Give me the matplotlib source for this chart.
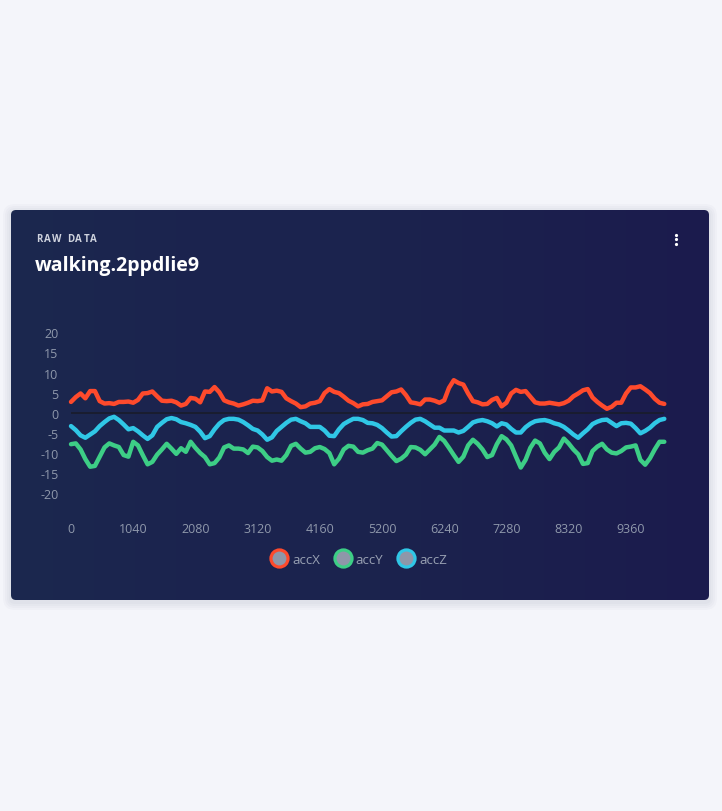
import numpy as np
import matplotlib
matplotlib.use('Agg')
import matplotlib.pyplot as plt
from matplotlib.patches import FancyBboxPatch
from matplotlib.lines import Line2D

# ---------------- data ----------------
sample_step = 80
acc_x = [2.7, 3.9, 4.8, 3.6, 5.4, 5.4, 2.9, 2.3, 2.4, 2.2, 2.7, 2.7, 2.8, 2.5, 3.2, 4.8, 4.9, 5.3, 4.1, 3.0, 2.9,
         3.0, 2.6, 1.8, 2.2, 3.7, 3.5, 2.6, 5.3, 5.2, 6.4, 5.1, 3.1, 2.6, 2.3, 1.8, 2.1, 2.5, 3.0, 2.9, 3.1,
         6.1, 5.3, 5.5, 5.2, 3.6, 2.9, 2.3, 1.4, 1.6, 2.3, 2.5, 2.9, 4.9, 5.9, 5.2, 4.9, 4.0, 3.0, 2.4, 1.6, 2.1,
         2.2, 2.7, 2.9, 3.1, 4.1, 5.1, 5.3, 5.8, 4.4, 2.6, 2.4, 2.1, 3.3, 3.3, 3.0, 2.5, 3.1, 6.2, 8.1, 7.4, 7.0, 4.8,
         2.9, 2.6, 2.1, 2.2, 3.2, 3.7, 1.6, 2.5, 4.8, 5.7, 5.2, 5.4, 4.0, 2.6, 2.3, 2.3, 2.5, 2.3, 2.1, 2.4, 3.0,
         4.1, 4.8, 5.6, 5.9, 3.8, 2.7, 1.8, 1.0, 1.5, 2.5, 2.5, 4.8, 6.3, 6.3, 6.6, 5.8, 4.9, 3.5, 2.5, 2.2]
acc_y = [-7.8, -7.6, -9.1, -11.5, -13.4, -13.2, -10.9, -8.6, -7.6, -8.1, -8.5, -10.5, -10.9, -7.2, -8.1, -10.5, -12.8, -12.2, -10.4, -9.1, -7.7,
         -8.9, -10.2, -8.8, -9.7, -7.2, -8.7, -10.0, -11.0, -12.8, -12.5, -11.1, -8.6, -8.1, -8.9, -8.9, -9.1, -10.0, -8.4, -8.6, -9.5,
         -11.0, -11.9, -11.6, -11.9, -10.5, -8.2, -7.7, -8.9, -9.9, -9.7, -8.8, -8.5, -9.0, -10.0, -12.8, -11.4, -9.1, -8.2, -8.4, -9.7, -9.9,
         -9.3, -8.9, -7.5, -7.9, -9.3, -10.7, -12.0, -11.4, -10.4, -8.5, -8.6, -9.2, -10.3, -9.1, -7.9, -6.0, -7.0, -8.7, -10.5, -12.2, -10.9, -8.1,
         -6.7, -7.7, -9.1, -11.0, -10.5, -7.8, -5.8, -6.6, -8.1, -10.9, -13.6, -11.7, -8.7, -6.9, -7.6, -9.9, -11.5, -9.7, -8.6, -6.4, -7.6,
         -9.1, -10.3, -12.7, -12.5, -9.5, -8.4, -7.7, -9.1, -9.9, -10.1, -9.5, -8.6, -8.4, -8.1, -11.7, -12.9, -11.3, -9.1, -7.2, -7.2]
acc_z = [-3.3, -4.3, -5.6, -6.2, -5.4, -4.6, -3.3, -2.3, -1.4, -1.0, -1.8, -2.9, -4.1, -3.8, -4.6, -5.6, -6.5, -5.6, -3.5, -2.5, -1.6,
         -1.3, -1.6, -2.3, -2.6, -3.0, -3.5, -4.7, -6.3, -5.8, -4.1, -2.7, -1.8, -1.5, -1.5, -1.7, -2.3, -3.1, -4.0, -4.4, -5.4,
         -6.7, -6.1, -4.5, -3.5, -2.5, -1.7, -1.5, -2.1, -2.6, -3.5, -3.5, -3.5, -4.4, -5.7, -5.8, -4.1, -2.8, -2.1, -1.5, -1.5, -1.8,
         -2.5, -2.6, -3.0, -3.8, -4.9, -5.9, -5.8, -4.6, -3.5, -2.5, -1.7, -1.5, -2.1, -2.9, -3.7, -3.7, -4.4, -4.4, -4.4, -4.9, -4.5, -3.5,
         -2.4, -2.0, -1.8, -2.1, -2.6, -3.4, -2.6, -2.9, -4.0, -4.9, -4.9, -3.6, -2.7, -2.1, -1.9, -1.8, -2.1, -2.6, -2.9, -3.5, -4.4,
         -5.4, -6.2, -5.1, -4.1, -2.8, -2.2, -1.8, -1.7, -2.5, -3.3, -2.6, -2.5, -2.7, -3.8, -5.1, -4.5, -3.7, -2.6, -1.8, -1.5]
series_names = ['accX', 'accY', 'accZ']
series_colors = ['#fe4a2c', '#3dce86', '#30c7e6']
x_ticks = [0, 1040, 2080, 3120, 4160, 5200, 6240, 7280, 8320, 9360]
y_ticks = [20, 15, 10, 5, 0, -5, -10, -15, -20]
card_label = 'RAW DATA'
card_title = 'walking.2ppdlie9'

# ---------------- figure ----------------
W, H = 722, 812
plt.rcParams['font.family'] = ['Open Sans', 'DejaVu Sans']
fig = plt.figure(figsize=(W / 100, H / 100), dpi=100)
fig.patch.set_facecolor('#f4f5fa')

bg = fig.add_axes([0, 0, 1, 1])
bg.set_xlim(0, W)
bg.set_ylim(H, 0)
bg.axis('off')

cx0, cy0, cx1, cy1 = 11, 211, 709, 601
# soft shadow
for i, a in enumerate([0.018, 0.018, 0.02, 0.025]):
    g = 8 - 2 * i
    bg.add_patch(FancyBboxPatch((cx0 - g, cy0 - g + 2), (cx1 - cx0) + 2 * g, (cy1 - cy0) + 2 * g,
                                boxstyle='round,pad=0,rounding_size=%d' % (4 + g),
                                fc='#1b2350', ec='none', alpha=a))
card = FancyBboxPatch((cx0, cy0), cx1 - cx0, cy1 - cy0,
                      boxstyle='round,pad=0,rounding_size=5', fc='none', ec='none')
bg.add_patch(card)
c_left = np.array([28, 44, 79]) / 255
c_right = np.array([28, 27, 77]) / 255
t = np.linspace(0, 1, 256)
grad = (c_left[None, :] * (1 - t[:, None]) + c_right[None, :] * t[:, None])[None, :, :]
im = bg.imshow(grad, extent=[cx0, cx1, cy1, cy0], aspect='auto', interpolation='bilinear')
im.set_clip_path(card)

# letter-spaced small caption
renderer = fig.canvas.get_renderer()
xpos = 36.0
for ch in card_label:
    tt = bg.text(xpos, 240, ch, color='#cfd3de', fontsize=7, fontweight='bold', va='center', ha='left')
    if ch == ' ':
        xpos += 3.0 + 1.3
    else:
        bb = tt.get_window_extent(renderer=renderer)
        xpos += bb.width + 1.3
bg.text(35, 266, card_title, color='white', fontsize=14, fontweight='bold', va='center', ha='left')
bg.plot([676, 676, 676], [235.5, 240, 244.5], ls='none', marker='o', ms=2.3, color='white', mew=0)

# ---------------- chart ----------------
pl, pr, pt, pb = 71, 664.3, 333.3, 494.3
ax = fig.add_axes([pl / W, 1 - pb / H, (pr - pl) / W, (pb - pt) / H])
ax.set_facecolor('none')
x_vals = np.arange(len(acc_x)) * sample_step
ax.axhline(0, color='#191c2b', lw=1.2, zorder=1)
for vals, name, col in zip([acc_x, acc_y, acc_z], series_names, series_colors):
    ax.plot(x_vals, vals, color=col, lw=3.2, solid_joinstyle='round', solid_capstyle='round',
            label=name, zorder=3, clip_on=False)
ax.set_xlim(0, x_vals[-1])
ax.set_ylim(-20, 20)
ax.set_xticks(x_ticks)
ax.set_xticklabels([str(v) for v in x_ticks])
ax.set_yticks(y_ticks)
ax.set_yticklabels([str(v) for v in y_ticks])
ax.tick_params(axis='y', length=0, pad=9, labelsize=9, labelcolor='#8f98ab')
ax.tick_params(axis='x', length=0, pad=21, labelsize=9, labelcolor='#8f98ab')
for s in ax.spines.values():
    s.set_visible(False)

handles = [Line2D([], [], ls='none', marker='o', ms=12.3, mfc='#8e97a9', mec=c, mew=2.3)
           for c in series_colors]
leg = fig.legend(handles, series_names, loc='center', bbox_to_anchor=(358 / W, 1 - 560 / H),
                 ncol=3, frameon=False, handlelength=1.5, handletextpad=0.25, columnspacing=0.95,
                 fontsize=9.5)
for txt in leg.get_texts():
    txt.set_color('#99a1b3')

fig.savefig('out.png', dpi=100, facecolor=fig.get_facecolor())
